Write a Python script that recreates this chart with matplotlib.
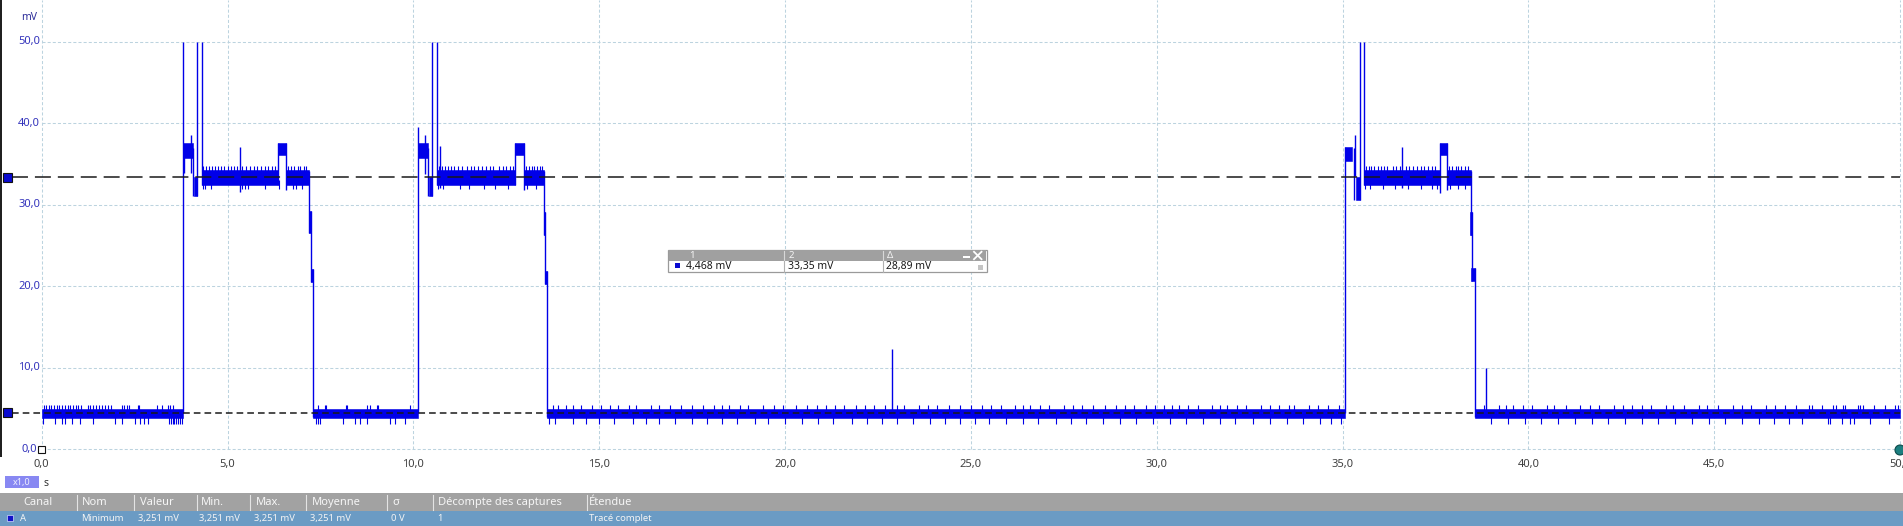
import matplotlib
matplotlib.use('Agg')
import matplotlib.pyplot as plt
from matplotlib.patches import Rectangle, Ellipse
from matplotlib.lines import Line2D

plt.rcParams['font.family'] = ['Noto Sans', 'DejaVu Sans']
plt.rcParams['lines.scale_dashes'] = False

# ---------------- data ----------------
x_ticks = [0, 5, 10, 15, 20, 25, 30, 35, 40, 45, 50]
x_labels = ["0,0", "5,0", "10,0", "15,0", "20,0", "25,0", "30,0", "35,0", "40,0", "45,0", "50,0"]
y_ticks = [0, 10, 20, 30, 40, 50]
y_labels = ["0,0", "10,0", "20,0", "30,0", "40,0", "50,0"]

# noise band segments: start (s), end (s), low (mV), high (mV)
band_t0 = [0.0, 3.806, 4.102, 4.317, 6.360, 6.567, 7.194, 7.235,
           7.30, 10.124, 10.42, 10.635, 12.74, 12.97, 13.51, 13.545,
           13.60, 35.08, 35.35, 35.58, 37.61, 37.81, 38.44, 38.47, 38.56]
band_t1 = [3.806, 4.067, 4.183, 6.360, 6.567, 7.194, 7.235, 7.295,
           10.124, 10.39, 10.51, 12.74, 12.97, 13.51, 13.545, 13.595,
           35.08, 35.26, 35.46, 37.61, 37.81, 38.46, 38.49, 38.555, 50.0]
band_lo = [3.85, 35.7, 31.0, 32.4, 36.1, 32.4, 26.5, 20.5,
           3.85, 35.7, 31.0, 32.4, 36.1, 32.4, 26.3, 20.3,
           3.85, 35.3, 30.6, 32.4, 36.1, 32.4, 26.3, 20.6, 3.85]
band_hi = [4.95, 37.5, 33.4, 34.2, 37.5, 34.2, 29.2, 22.1,
           4.95, 37.5, 33.4, 34.2, 37.5, 34.2, 29.1, 21.8,
           4.95, 37.1, 33.4, 34.2, 37.5, 34.2, 29.1, 22.2, 4.95]

# vertical strokes (edges and spikes): time (s), from (mV), to (mV)
edge_t = [3.806, 3.83, 4.03, 4.08, 4.183, 4.317, 5.33, 6.360, 6.567, 7.194, 7.235, 7.30,
          10.124, 10.32, 10.40, 10.51, 10.635, 10.72, 12.74, 12.97, 13.51, 13.545, 13.60,
          22.89,
          35.08, 35.30, 35.33, 35.46, 35.58, 36.59, 37.61, 37.81, 38.46, 38.49, 38.56,
          38.86]
edge_lo = [4.4, 33.9, 33.9, 31.0, 31.0, 32.4, 31.6, 32.4, 31.8, 26.5, 20.5, 3.9,
           4.4, 33.8, 31.0, 31.0, 32.4, 32.0, 32.4, 31.8, 26.3, 20.3, 3.9,
           3.9,
           4.4, 30.6, 33.5, 30.6, 32.4, 32.0, 31.4, 31.8, 26.3, 20.6, 3.9,
           3.9]
edge_hi = [50.0, 37.0, 38.5, 37.0, 50.0, 50.0, 37.1, 37.5, 37.5, 34.1, 29.2, 22.1,
           39.5, 38.5, 37.0, 50.0, 50.0, 37.2, 37.5, 37.5, 34.1, 29.1, 21.8,
           12.35,
           37.1, 37.0, 38.5, 50.0, 50.0, 37.1, 37.5, 37.5, 34.1, 29.1, 22.2,
           10.0]

# noise ticks on the low level (~4.5 mV)
base_up_t = [0.05, 0.12, 0.2, 0.26, 0.33, 0.41, 0.47, 0.55, 0.62, 0.7, 0.76, 0.84, 0.91,
             0.98, 1.06, 1.25, 1.31, 1.39, 1.46, 1.55, 1.62, 1.7, 1.78, 1.86, 2.17, 2.22,
             2.3, 2.36, 2.58, 2.63, 3.1, 3.24, 3.41, 3.46, 3.52,
             7.44, 7.62, 7.66, 8.19, 8.22, 8.74, 8.83, 9.01, 9.06, 9.91,
             13.75, 13.9, 14.1, 14.3, 14.5, 14.8, 15.05, 15.3, 15.5, 15.8, 16.0, 16.4,
             16.6, 16.9, 17.2, 17.5, 17.8, 18.1, 18.3, 18.5, 18.8, 19.0, 19.4, 19.7,
             19.95, 20.3, 20.6, 20.85, 21.1, 21.35, 21.6, 21.9, 22.15, 22.4, 22.7,
             23.0, 23.2, 23.6, 23.85, 24.1, 24.4, 24.7, 25.0, 25.3, 25.55, 25.8, 26.2,
             26.4, 26.6, 26.85, 27.1, 27.5, 27.75, 28.0, 28.3, 28.6, 28.9, 29.15, 29.4,
             29.7, 29.95, 30.2, 30.4, 30.6, 30.85, 31.1, 31.5, 31.7, 31.9, 32.15,
             32.4, 32.8, 33.05, 33.3, 33.55, 33.7, 34.1, 34.35, 34.6, 34.9,
             38.8, 39.2, 39.4, 39.6, 39.85, 40.1, 40.5, 40.7, 41.0, 41.4, 41.65, 41.9,
             42.3, 42.55, 42.8, 43.05, 43.3, 43.7, 43.9, 44.2, 44.6, 44.8, 45.1, 45.5,
             45.75, 46.0, 46.4, 46.65, 46.9, 47.2, 47.55, 47.62, 47.89, 48.20,
             48.29, 48.47, 48.51, 48.87, 48.92, 49.01, 49.3, 49.59, 49.86, 49.95]
base_dn_t = [0.04, 0.36, 0.54, 0.63, 0.81, 1.03, 1.39, 1.97, 2.15, 2.51, 2.64, 2.75,
             2.87, 3.42, 3.47, 3.52, 3.57, 3.62, 3.67, 3.72, 3.77,
             7.37, 7.43, 7.49, 8.11, 8.43, 8.56, 8.74, 9.37, 9.51, 9.78,
             13.65, 13.8, 14.3, 14.65, 15.0, 15.4, 15.9, 16.25, 16.6, 17.05, 17.5, 17.9,
             18.3, 18.7, 19.2, 19.55, 20.0, 20.45, 20.9, 21.3, 21.8, 22.2, 22.6, 23.0,
             23.45, 23.9, 24.3, 24.7, 25.1, 25.5, 25.95, 26.4, 26.8, 27.3, 27.7, 28.1,
             28.55, 29.0, 29.45, 29.9, 30.35, 30.8, 31.25, 31.7, 32.1, 32.6, 33.05,
             33.5, 33.95, 34.4, 34.7, 34.95,
             39.0, 39.45, 39.9, 40.35, 40.8, 41.25, 41.7, 42.15, 42.6, 43.05, 43.5,
             43.95, 44.4, 44.85, 45.3, 45.75, 46.2, 46.6, 47.0, 47.35, 48.07, 48.11,
             48.45, 48.65, 48.76, 49.2, 49.7]
# noise ticks on the high level (~33 mV)
plat_up_t = [4.35, 4.42, 4.5, 4.57, 4.66, 4.75, 4.83, 4.9, 5.0, 5.1, 5.18, 5.25, 5.4,
             5.5, 5.6, 5.72, 5.8, 5.9, 6.0, 6.1, 6.2, 6.28, 6.62, 6.7, 6.8, 6.9, 6.95,
             7.05, 7.12,
             10.68, 10.76, 10.85, 10.93, 11.0, 11.1, 11.2, 11.3, 11.45, 11.55, 11.62,
             11.75, 11.85, 11.95, 12.05, 12.15, 12.3, 12.4, 12.5, 12.6, 12.68, 13.02,
             13.1, 13.18, 13.25, 13.33, 13.4, 13.47,
             35.62, 35.7, 35.78, 35.86, 35.95, 36.03, 36.12, 36.2, 36.35, 36.45, 36.55,
             36.7, 36.8, 36.9, 37.0, 37.1, 37.2, 37.3, 37.42, 37.5, 37.86, 37.95,
             38.05, 38.12, 38.2, 38.3, 38.38]
plat_dn_t = [4.35, 4.4, 4.55, 5.38, 5.48, 5.55, 6.0, 6.38, 6.75, 6.85, 7.0,
             10.66, 10.8, 11.25, 11.5, 11.9, 12.2, 12.55, 13.05, 13.3,
             35.6, 35.75, 36.1, 36.4, 36.75, 37.1, 37.4, 37.55, 37.9, 38.1, 38.3]
base_up_top, base_dn_bot = 5.45, 3.05
plat_up_top, plat_dn_bot = 34.7, 31.9

cursor_levels = [33.35, 4.468]
cursor_texts = ["4,468 mV", "33,35 mV", "28,89 mV"]

table_head = ["Canal", "Nom", "Valeur", "Min.", "Max.", "Moyenne", "\u03c3",
              "D\u00e9compte des captures", "\u00c9tendue"]
table_row = ["A", "Minimum", "3,251 mV", "3,251 mV", "3,251 mV", "3,251 mV", "0 V",
             "1", "Trac\u00e9 complet"]

# ---------------- layout ----------------
W, H = 1903, 526
X0, SX = 41.7, 37.166     # px of t=0, px per second
Y0, SY = 449.3, 8.156     # px of 0 mV, px per mV

def t_px(x):
    return (x - X0) / SX

def v_px(y):
    return (Y0 - y) / SY

fig = plt.figure(figsize=(W / 100, H / 100), dpi=100)
ax = fig.add_axes([0, 0, 1, 1])
ax.set_xlim(t_px(0), t_px(W))
ax.set_ylim(v_px(H), v_px(0))
ax.set_axis_off()
T = fig.transFigure

def fx(x):
    return x / W

def fy(y):
    return 1 - y / H

def frect(x0, y0, x1, y1, **kw):
    fig.add_artist(Rectangle((fx(x0), fy(y1)), (x1 - x0) / W, (y1 - y0) / H,
                             transform=T, **kw))

def fline(xs, ys, **kw):
    fig.add_artist(Line2D([fx(x) for x in xs], [fy(y) for y in ys], transform=T, **kw))

def ftext(x, y, s, **kw):
    kw.setdefault('zorder', 12)
    fig.text(fx(x), fy(y), s, **kw)

BLUE = '#0000e8'
GRID = '#bcd3df'

# grid
ytop = v_px(0)
for t in x_ticks:
    ax.plot([t, t], [0, ytop], color=GRID, lw=0.75, dashes=(2.2, 1.5), zorder=1)
for v in y_ticks:
    ax.plot([0, 50], [v, v], color=GRID, lw=0.75, dashes=(2.2, 1.5), zorder=1)

# signal band
for t0, t1, lo, hi in zip(band_t0, band_t1, band_lo, band_hi):
    ax.fill_between([t0, t1], [lo, lo], [hi, hi], color=BLUE, lw=0.4, zorder=3)
ax.vlines(edge_t, edge_lo, edge_hi, color=BLUE, lw=1.0, zorder=3)
ax.vlines(base_up_t, 4.5, base_up_top, color=BLUE, lw=0.8, zorder=3)
ax.vlines(base_dn_t, base_dn_bot, 4.4, color=BLUE, lw=0.8, zorder=3)
ax.vlines(plat_up_t, 33.5, plat_up_top, color=BLUE, lw=0.8, zorder=3)
ax.vlines(plat_dn_t, plat_dn_bot, 33.0, color=BLUE, lw=0.8, zorder=3)

# cursors
ax.plot([t_px(12), 50], [cursor_levels[0]] * 2, color='#1a1a1a', lw=1.1,
        dashes=(11.5, 5.0), zorder=5)
ax.plot([t_px(12), 50], [cursor_levels[1]] * 2, color='#1a1a1a', lw=1.1,
        dashes=(4.8, 2.9), zorder=5)
for lvl in cursor_levels:
    y = Y0 - lvl * SY
    frect(3.0, y - 4.5, 12.0, y + 4.5, facecolor='#0a0ad0', edgecolor='#111111',
          lw=0.8, zorder=6)

# left dark bar
frect(0, 0, 1.6, 457, facecolor='#202020', edgecolor='none', zorder=6)

# tick labels
for v, lab in zip(y_ticks, y_labels):
    xr = 40.0 if v > 0 else 37.0
    ax.text(t_px(xr), v, lab, ha='right', va='center', fontsize=8,
            color='#3434bc', zorder=6)
ax.text(t_px(29.5), v_px(17), "mV", ha='center', va='center', fontsize=7.5,
        color='#2e2e9a')
for t, lab in zip(x_ticks, x_labels):
    ax.text(t, v_px(465), lab, ha='center', va='center', fontsize=8, color='#404040')

# origin square and right-end circle
frect(37.8, 445.8, 45.2, 453.2, facecolor='white', edgecolor='#111111', lw=0.8, zorder=7)
fig.add_artist(Ellipse((fx(1900), fy(450)), 10 / W, 10 / H, transform=T,
                       facecolor='#1c7f80', edgecolor='#0c4a4a', lw=0.8, zorder=7))

# x1,0 zoom box
frect(5, 476, 39.3, 488.3, facecolor='#8888f2', edgecolor='none', zorder=6)
ftext(22, 482.3, "x1,0", ha='center', va='center', fontsize=6.5, color='#f0f0ff')
ftext(43.5, 483, "s", ha='left', va='center', fontsize=7.5, color='#303030')

# table at the bottom
frect(0, 493.3, W, 510.7, facecolor='#a2a2a2', edgecolor='none', zorder=6)
frect(0, 510.7, W, H, facecolor='#6b9bc4', edgecolor='none', zorder=6)
for xs in [77.3, 134.3, 196.7, 250, 306, 386.5, 432.7, 586.7]:
    fline([xs, xs], [495, 509.5], color='#e4e4e4', lw=0.8, zorder=7)
head_x = [23.3, 82, 140, 201, 256, 312, 392.5, 438.3, 589.3]
for x, s in zip(head_x, table_head):
    ftext(x, 502.3, s, ha='left', va='center', fontsize=8, color='#f6f6f6')
row_x = [20, 81, 138, 199, 254, 310, 391, 437, 589.3]
frect(6.7, 514.5, 12.7, 520.5, facecolor='#1212c8', edgecolor='#d0d8ff', lw=0.5, zorder=7)
for x, s in zip(row_x, table_row):
    ftext(x, 518.5, s, ha='left', va='center', fontsize=6.8, color='#f4f4f4')

# cursor measurement box
frect(668.3, 250, 986.7, 272.3, facecolor='white', edgecolor='#9a9a9a', lw=0.9, zorder=9)
frect(668.8, 250.3, 986.2, 260.7, facecolor='#a0a0a0', edgecolor='none', zorder=9)
for xs in [784.3, 883.3]:
    fline([xs, xs], [250.5, 260.5], color='#d8d8d8', lw=0.8, zorder=10)
    fline([xs, xs], [260.7, 272.0], color='#b0b0b0', lw=0.8, zorder=10)
for x, s in zip([689, 789, 887], ["1", "2", "\u0394"]):
    ftext(x, 255.6, s, ha='left', va='center', fontsize=7, color='#f4f4f4')
frect(962.5, 256.2, 969.5, 258.2, facecolor='white', edgecolor='none', zorder=10)
fline([974, 981.5], [251.8, 259.2], color='white', lw=1.3, zorder=10)
fline([974, 981.5], [259.2, 251.8], color='white', lw=1.3, zorder=10)
frect(674.5, 262.8, 680, 268.3, facecolor='#0a0ad0', edgecolor='none', zorder=10)
for x, s in zip([686.5, 787.5, 886.5], cursor_texts):
    ftext(x, 266.3, s, ha='left', va='center', fontsize=7.5, color='#1a1a1a')
frect(977.5, 265, 982.5, 270, facecolor='#c4c4c4', edgecolor='none', zorder=10)

fig.savefig('out.png', dpi=100)
